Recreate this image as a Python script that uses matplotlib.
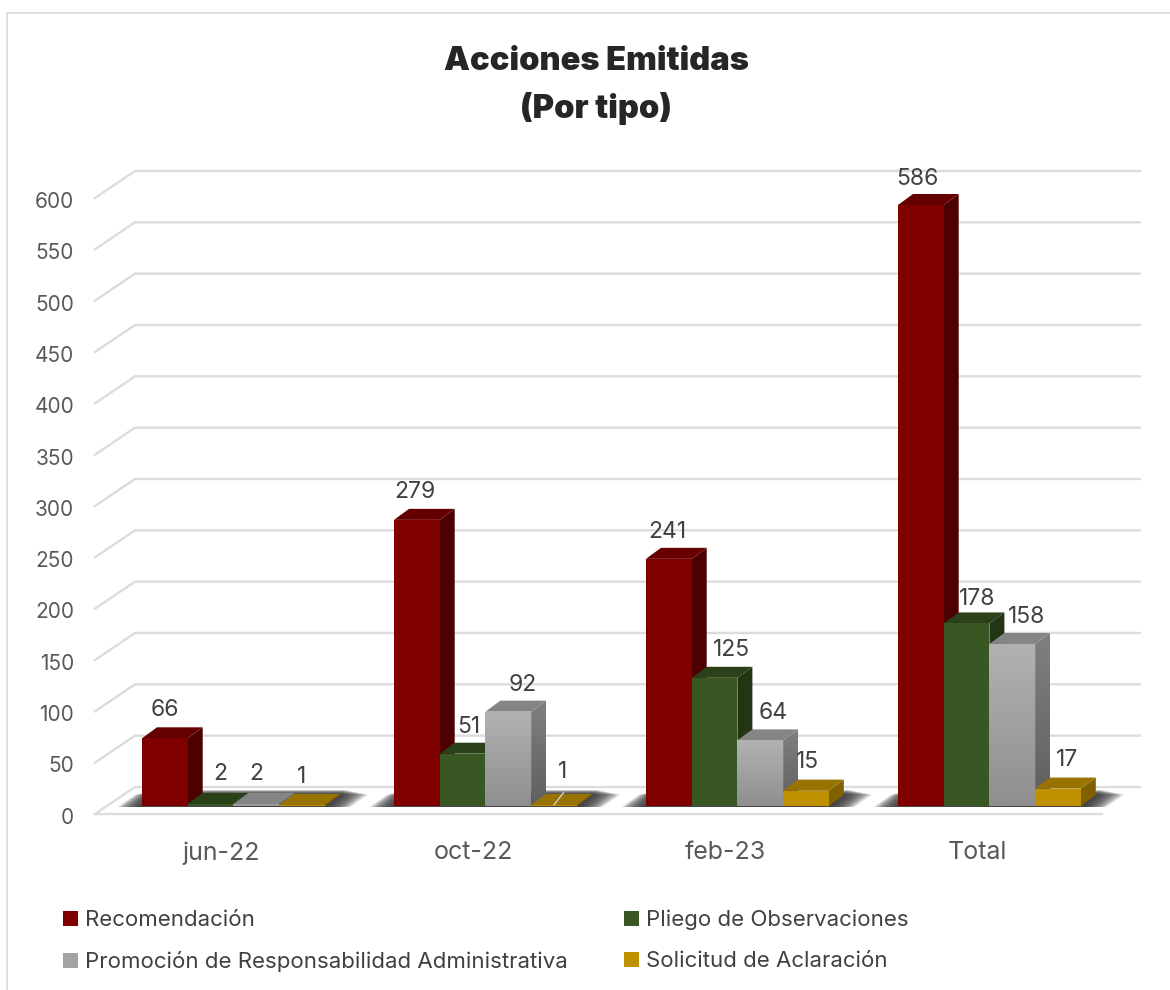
import matplotlib
matplotlib.use("Agg")
import matplotlib.pyplot as plt
import numpy as np
from matplotlib.patches import Polygon, Rectangle, Patch
from matplotlib.transforms import ScaledTranslation

# ---------- data ----------
categories = ["jun-22", "oct-22", "feb-23", "Total"]
recomendacion = [66, 279, 241, 586]
pliego = [2, 51, 125, 178]
promocion = [2, 92, 64, 158]
solicitud = [1, 1, 15, 17]
series_names = ["Recomendación", "Pliego de Observaciones",
                "Promoción de Responsabilidad Administrativa", "Solicitud de Aclaración"]
y_ticks = list(range(0, 601, 50))

# ---------- style ----------
FONT = ["Inter", "DejaVu Sans"]
plt.rcParams["font.family"] = FONT
W, H = 1170, 990
PX_X = 252.0          # pixels per category
PX_Y = 1.0256         # pixels per value unit
X0_PX, Y0_PX = 234.0, 806.0   # pixel of category 0 / value 0
AX_L, AX_R, AX_T, AX_B = 95, 1140, 160, 830

fig = plt.figure(figsize=(W / 100, H / 100), dpi=100, facecolor="white")
ax = fig.add_axes([AX_L / W, 1 - AX_B / H, (AX_R - AX_L) / W, (AX_B - AX_T) / H])
ax.set_xlim((AX_L - X0_PX) / PX_X, (AX_R - X0_PX) / PX_X)
ax.set_ylim((Y0_PX - AX_B) / PX_Y, (Y0_PX - AX_T) / PX_Y)
ax.patch.set_alpha(0)
for s in ax.spines.values():
    s.set_visible(False)

def dx(px):
    return px / PX_X
def dy(px):
    return px / PX_Y

# outer chart frame
fig.add_artist(Rectangle((7 / W, -0.02), 1.1, 1 - 13 / H + 0.02, transform=fig.transFigure,
                         fill=False, ec="#dcdcdc", lw=1.3))

# gridlines: wall + left wall diagonal
GRID = "#dcdcdc"
wall_dy, front_dy = dy(806 - 787), dy(806 - 814)
xf, xw, xr = dx(95 - X0_PX), dx(135 - X0_PX), dx(1140 - X0_PX)
for v in y_ticks:
    vv = v * 1.0011
    ax.plot([xf, xw, xr], [vv + front_dy, vv + wall_dy, vv + wall_dy],
            color=GRID, lw=1.7, clip_on=False, zorder=1, solid_joinstyle="miter")
ax.plot([xf, dx(1102 - X0_PX)], [front_dy, front_dy], color=GRID, lw=1.7, clip_on=False, zorder=1)

# bars
BAR_W = 45.7 / PX_X
DEPTH_X, DEPTH_Y = dx(15), dy(11)
series = [recomendacion, pliego, promocion, solicitud]
fronts = ["#800000", "#385723", None, "#bf9000"]
tops = ["#660000", "#2a4119", "#858585", "#997300"]
sides = ["#4d0000", "#223515", None, "#806000"]

def gradient_poly(pts, c_top, c_bot, z):
    pts = np.array(pts)
    poly = Polygon(pts, closed=True, fc="none", ec="none", zorder=z)
    ax.add_patch(poly)
    grad = np.linspace(0, 1, 64).reshape(-1, 1)
    a, b = np.array(matplotlib.colors.to_rgb(c_top)), np.array(matplotlib.colors.to_rgb(c_bot))
    img = (a[None, None, :] * (1 - grad[..., None]) + b[None, None, :] * grad[..., None])
    im = ax.imshow(img, extent=(pts[:, 0].min(), pts[:, 0].max(), pts[:, 1].min(), pts[:, 1].max()),
                   aspect="auto", origin="upper", zorder=z)
    im.set_clip_path(poly)

# floor shadows (soft: stacked translucent parallelograms)
for i in range(len(categories)):
    left = i + dx(142 - X0_PX)
    right = left + 4 * BAR_W
    for k in range(16):
        g = (15 - k) * 1.5
        xl, xr2 = left - dx(g) - dx(2), right + dx(g) + dx(3)
        yb, yt = dy(-1), dy(16 - g * 0.2)
        ax.add_patch(Polygon([(xl, yb), (xr2, yb), (xr2 + dx(18), yt), (xl + dx(18), yt)],
                             closed=True, fc="#333333", ec="none", alpha=0.13, zorder=2))

z = 5
for i in range(len(categories)):
    start = i + dx(142 - X0_PX)
    for j, vals in enumerate(series):
        v = vals[i]
        x0 = start + j * BAR_W
        x1 = x0 + BAR_W
        if fronts[j] is not None:
            ax.bar(x0, v, width=BAR_W, align="edge", color=fronts[j], zorder=z + 2, lw=0)
            ax.add_patch(Polygon([(x1, 0), (x1 + DEPTH_X, DEPTH_Y), (x1 + DEPTH_X, v + DEPTH_Y), (x1, v)],
                                 closed=True, fc=sides[j], ec="none", zorder=z))
        else:
            gradient_poly([(x1, 0), (x1 + DEPTH_X, DEPTH_Y), (x1 + DEPTH_X, v + DEPTH_Y), (x1, v)],
                          "#808080", "#5f5f5f", z)
            gradient_poly([(x0, 0), (x1, 0), (x1, v), (x0, v)], "#b2b2b2", "#8f8f8f", z + 2)
        ax.add_patch(Polygon([(x0, v), (x1, v), (x1 + DEPTH_X, v + DEPTH_Y), (x0 + DEPTH_X, v + DEPTH_Y)],
                             closed=True, fc=tops[j], ec="none", zorder=z + 1))
        z += 3

# data labels (offsets in px from each bar's top centre)
label_offsets = [
    [(0, 30), (-2, 30), (-2, 29), (-3, 28)],
    [(10, 32), (6, 29), (17, 30), (11, 26)],
    [(0, 32), (15, 29), (13, 29), (14, 29)],
    [(0, 30), (9, 35), (2, 31), (9, 31)],
]
for j, vals in enumerate(series):
    for i, v in enumerate(vals):
        xc = i + dx(142 - X0_PX) + (j + 0.5) * BAR_W
        ox, oy = label_offsets[j][i]
        ax.annotate(str(v), (xc, v), xytext=(ox * 0.72, (oy - 2) * 0.72), textcoords="offset points",
                    ha="center", va="center", fontsize=16.5, color="#404040", zorder=200,
                    annotation_clip=False)

# leader line of the "1" in oct-22
ax.annotate("", xy=(1 + dx(142 - X0_PX) + 3.5 * BAR_W, 1), xytext=(7, 9), textcoords="offset points",
            arrowprops=dict(arrowstyle="-", color="#d0d0d0", lw=1, shrinkA=0, shrinkB=0),
            zorder=200, annotation_clip=False)

# axis ticks
ax.set_xticks(range(len(categories)))
ax.set_xticklabels(categories, fontsize=18, color="#595959")
ax.set_yticks(y_ticks)
ax.set_yticklabels([str(v) for v in y_ticks], fontsize=15, color="#595959")
ax.tick_params(axis="both", length=0)
ax.tick_params(axis="y", pad=15)
ax.tick_params(axis="x", pad=8)
off_y = ScaledTranslation(0, -9.5 / 100, fig.dpi_scale_trans)
off_x = ScaledTranslation(-13 / 100, 0, fig.dpi_scale_trans)
for t in ax.get_yticklabels():
    t.set_transform(t.get_transform() + off_y)
for t in ax.get_xticklabels():
    t.set_transform(t.get_transform() + off_x)

# title
ax.set_title("Acciones Emitidas\n(Por tipo)", x=(596 - AX_L) / (AX_R - AX_L), y=1.0,
             pad=(AX_T - 118) * 0.72, fontsize=23.5, fontweight="black", color="#262626",
             linespacing=1.56)

# legend
handles = [Patch(fc="#800000"), Patch(fc="#a3a3a3"), Patch(fc="#385723"), Patch(fc="#bf9000")]
labels = [series_names[0], series_names[2], series_names[1], series_names[3]]
leg = ax.legend(handles, labels, ncol=2, loc="upper left",
                bbox_to_anchor=((63 - AX_L) / (AX_R - AX_L), 1 - (909.5 - AX_T) / (AX_B - AX_T)),
                frameon=False, fontsize=16, labelcolor="#404040",
                handlelength=0.68, handleheight=0.68, handletextpad=0.32,
                columnspacing=2.52, labelspacing=0.96, borderpad=0, borderaxespad=0)

fig.savefig("out.png", dpi=100, facecolor="white")
